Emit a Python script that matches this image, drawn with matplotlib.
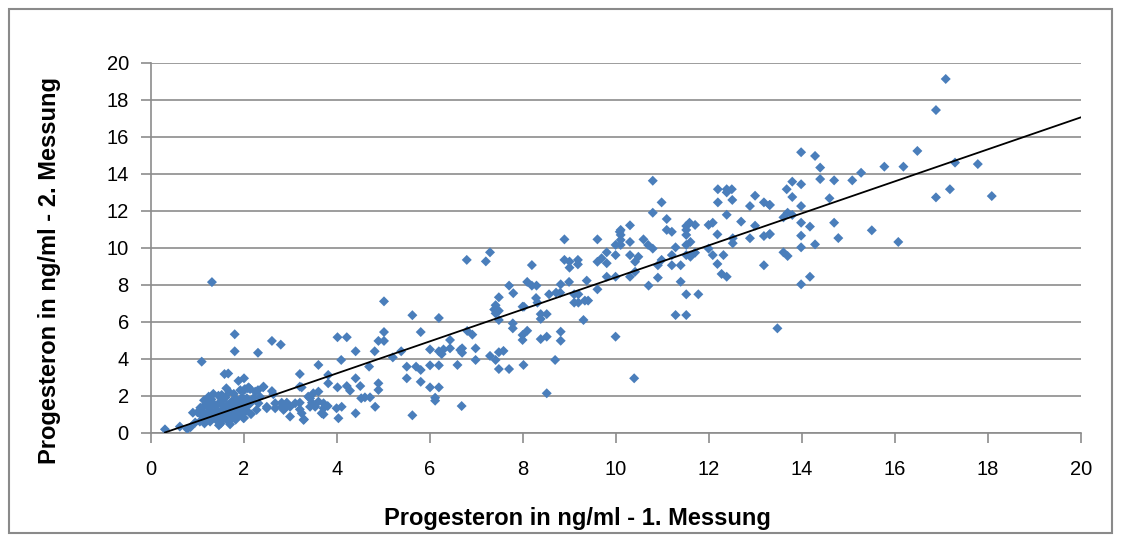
import numpy as np
import matplotlib
matplotlib.use("Agg")
import matplotlib.pyplot as plt
from matplotlib.patches import Rectangle

plt.rcParams["font.family"] = ["Liberation Sans", "DejaVu Sans"]

# Progesteron (ng/ml), first measurement vs. second measurement
messung_1 = np.array([
    # < 1 ng/ml
    0.30, 0.62, 0.78, 0.85, 0.90, 0.95,
    # 1 - 2.2 ng/ml
    1.09, 1.31, 1.00, 1.05, 1.08, 1.10, 1.12, 1.15, 1.18, 1.20, 1.22, 1.25,
    1.27, 1.30, 1.32, 1.35, 1.37, 1.40, 1.42, 1.45, 1.47, 1.50, 1.50, 1.52,
    1.55, 1.57, 1.58, 1.60, 1.62, 1.64, 1.66, 1.67, 1.68, 1.70, 1.72, 1.74,
    1.76, 1.78, 1.80, 1.80, 1.80, 1.82, 1.84, 1.86, 1.88, 1.88, 1.90, 1.92,
    1.94, 1.96, 1.98, 2.00, 2.00, 2.00, 2.02, 1.99, 2.05, 2.08, 2.10, 2.12,
    2.15, 1.28, 1.14, 1.34, 1.46, 1.54, 1.62, 1.70, 1.06, 1.24, 1.44, 1.58,
    # 2 - 3.3 ng/ml
    2.02, 2.13, 2.24, 2.42, 2.60, 2.63, 2.06, 2.20, 2.34, 2.09, 2.31, 2.49,
    2.67, 2.81, 2.92, 2.99, 3.10, 2.27, 2.49, 2.67, 2.85, 2.99, 1.99, 2.30,
    2.41, 2.30, 2.60, 2.79,
    # 2.8 - 4.1 ng/ml
    3.60, 3.20, 3.81, 3.81, 3.20, 3.49, 3.60, 2.81, 2.92, 3.20, 3.42, 3.46,
    3.60, 3.71, 2.88, 3.20, 3.42, 3.53, 3.71, 3.24, 3.28, 3.67, 3.99, 4.03,
    3.24, 3.38, 3.29, 3.71, 3.80,
    # 4 - 6.7 ng/ml
    5.01, 5.62, 6.19, 4.01, 4.21, 5.01, 4.89, 5.01, 5.80, 4.40, 4.81, 4.09,
    4.69, 5.20, 5.38, 6.00, 6.19, 6.29, 6.25, 6.65, 5.50, 5.70, 5.80, 6.00,
    6.19, 5.50, 5.80, 4.89, 4.89, 4.40, 4.50, 4.28, 4.21, 4.01, 4.52, 4.60,
    4.71, 4.82, 4.40, 4.10, 5.62, 6.00, 6.19, 6.11, 6.11,
    # 6.4 - 10 ng/ml
    8.89, 9.60, 7.29, 6.79, 7.20, 8.19, 8.89, 9.00, 9.00, 9.18, 9.18, 9.60,
    9.69, 9.80, 9.80, 9.99, 9.99, 10.08, 7.70, 7.79, 8.09, 8.19, 8.29, 8.81,
    8.99, 9.37, 9.60, 9.80, 9.99, 8.56, 8.71, 8.80, 9.10, 9.19, 9.10, 9.19,
    9.33, 9.40, 8.28, 8.31, 7.99, 8.02, 7.48, 7.41, 7.48, 7.41, 7.48, 7.38,
    7.78, 7.78, 8.09, 8.38, 8.51, 8.38, 7.99, 7.99, 8.51, 8.38, 8.81, 8.81,
    9.30, 9.99, 6.80, 6.91, 6.43, 6.43, 6.69, 6.69, 6.98, 6.98, 7.29, 7.41,
    7.48, 7.58, 7.48, 7.70, 8.01, 8.69, 6.59, 8.51, 6.68,
    # 10 - 13.5 ng/ml
    10.79, 12.19, 12.38, 12.49, 12.38, 10.98, 12.19, 12.50, 12.99, 12.88,
    13.18, 13.30, 10.79, 12.38, 11.09, 11.58, 11.70, 11.51, 11.51, 11.99,
    12.08, 12.69, 12.99, 10.30, 10.10, 10.10, 10.10, 10.10, 10.30, 10.30,
    10.59, 10.69, 10.79, 11.09, 11.20, 11.51, 11.51, 11.60, 11.28, 12.18,
    12.51, 12.51, 12.88, 13.18, 13.30, 11.99, 11.70, 11.51, 11.60, 11.20,
    10.98, 10.41, 10.48, 12.08, 12.31, 12.18, 12.27, 12.38, 13.18, 10.90,
    11.20, 11.39, 10.90, 10.30, 10.41, 10.70, 11.39, 11.51, 11.77, 11.28,
    11.51, 10.39, 13.47,
    # 13.3 - 16.5 ng/ml
    13.98, 14.28, 14.39, 16.48, 15.77, 16.18, 15.27, 14.39, 14.69, 15.08,
    13.79, 13.98, 13.67, 13.79, 14.59, 13.31, 13.98, 13.60, 13.69, 13.79,
    13.98, 14.17, 14.69, 13.31, 13.98, 14.78, 15.50, 14.28, 13.98, 16.07,
    13.60, 13.69, 14.17, 13.98,
    # > 16.5 ng/ml
    17.09, 16.88, 17.29, 17.78, 16.88, 17.18, 18.08,
])

messung_2 = np.array([
    0.18, 0.33, 0.20, 0.30, 1.08, 0.55,
    3.84, 8.14, 1.10, 0.60, 1.20, 0.90, 1.40, 0.50, 1.00, 1.60, 0.80, 1.30,
    0.60, 1.80, 1.10, 0.90, 1.50, 0.70, 1.20, 2.00, 1.00, 1.60, 0.50, 2.04,
    1.30, 0.80, 3.17, 1.90, 1.10, 1.50, 3.20, 0.60, 2.20, 1.30, 0.90, 1.70,
    1.00, 2.10, 5.32, 4.40, 1.40, 0.70, 1.80, 1.20, 2.80, 0.90, 1.60, 2.30,
    1.00, 1.90, 1.40, 2.94, 2.30, 0.80, 1.70, 1.14, 1.20, 2.40, 2.45, 1.55,
    1.00, 1.45, 1.75, 2.10, 0.40, 1.80, 2.40, 0.45, 1.35, 1.95, 1.55, 1.15,
    2.36, 2.36, 2.22, 2.49, 2.25, 2.08, 1.86, 1.86, 1.95, 1.50, 1.59, 1.40,
    1.59, 1.40, 1.59, 1.40, 1.59, 1.23, 1.32, 1.32, 1.23, 0.87, 0.78, 2.30,
    2.45, 4.32, 4.96, 4.76,
    3.66, 3.17, 3.12, 2.67, 2.49, 2.13, 2.22, 1.62, 1.62, 1.62, 1.86, 1.62,
    1.68, 1.59, 1.32, 1.26, 1.40, 1.40, 1.32, 1.05, 0.69, 1.05, 1.32, 0.78,
    2.45, 1.95, 0.72, 0.99, 1.44,
    7.10, 6.35, 6.20, 5.16, 5.16, 5.44, 4.96, 4.96, 5.44, 4.40, 4.40, 3.93,
    3.57, 4.07, 4.40, 4.50, 4.40, 4.50, 4.25, 4.47, 3.57, 3.57, 3.39, 3.64,
    3.64, 2.94, 2.75, 2.67, 2.31, 2.94, 2.52, 2.27, 2.52, 2.45, 1.86, 1.91,
    1.91, 1.40, 1.05, 1.40, 0.94, 2.45, 2.45, 1.89, 1.73,
    10.45, 10.45, 9.75, 9.34, 9.26, 9.06, 9.34, 9.25, 8.92, 9.34, 9.10, 9.24,
    9.43, 9.75, 9.16, 10.15, 9.60, 10.86, 7.95, 7.54, 8.15, 7.95, 7.95, 8.02,
    8.15, 8.22, 7.75, 8.43, 8.43, 7.48, 7.57, 7.57, 7.48, 7.48, 7.03, 7.03,
    7.14, 7.14, 7.28, 7.03, 6.81, 6.81, 7.32, 6.89, 6.59, 6.45, 6.09, 6.66,
    5.91, 5.64, 5.51, 6.41, 6.41, 6.15, 5.28, 5.01, 5.19, 5.06, 5.46, 4.97,
    6.09, 5.19, 5.50, 5.30, 5.01, 4.56, 4.56, 4.32, 4.56, 3.93, 4.15, 3.93,
    4.35, 4.42, 3.44, 3.44, 3.66, 3.93, 3.66, 2.13, 1.44,
    13.62, 13.16, 13.16, 13.16, 12.99, 12.45, 12.45, 12.58, 12.81, 12.25,
    12.45, 12.31, 11.89, 11.78, 11.55, 11.35, 11.23, 11.17, 10.96, 11.23,
    11.35, 11.41, 11.19, 11.21, 10.96, 10.69, 10.42, 10.15, 10.31, 9.60,
    10.45, 10.15, 9.95, 10.96, 10.86, 10.69, 10.15, 10.31, 10.02, 10.72,
    10.51, 10.24, 10.51, 10.63, 10.72, 9.95, 9.73, 9.60, 9.51, 9.60,
    9.34, 9.24, 9.51, 9.60, 9.60, 9.12, 8.58, 8.43, 9.05, 9.05,
    9.05, 9.05, 8.38, 8.43, 8.70, 7.95, 8.16, 7.48, 7.48, 6.36,
    6.36, 2.94, 5.64,
    15.16, 14.96, 14.33, 15.23, 14.38, 14.38, 14.05, 13.71, 13.64, 13.64,
    13.57, 13.43, 13.16, 12.74, 12.67, 12.31, 12.25, 11.64, 11.89, 11.77,
    11.35, 11.14, 11.35, 10.74, 10.65, 10.52, 10.94, 10.18, 10.02, 10.31,
    9.75, 9.55, 8.43, 8.02,
    19.12, 17.44, 14.60, 14.52, 12.72, 13.16, 12.79,
])

# linear trend line (Excel style), drawn from the smallest value out to 20
trend_slope = 0.865
trend_intercept = -0.25
trend_x = [0.3, 20.0]

x_ticks = np.arange(0, 21, 2)
y_ticks = np.arange(0, 21, 2)

grid_grey = "#8c8c8c"

fig = plt.figure(figsize=(11.22, 5.42), dpi=100)
fig.patch.set_facecolor("white")
ax = fig.add_axes([0.1346, 0.2017, 0.8289, 0.6826])

ax.scatter(messung_1, messung_2, marker="D", s=26, color="#4a7ebb",
           edgecolors="none", zorder=3)
tx = np.array(trend_x)
ax.plot(tx, trend_slope * tx + trend_intercept, color="black", lw=1.3, zorder=4)

ax.set_xlim(0, 20)
ax.set_ylim(0, 20)
ax.set_xticks(x_ticks)
ax.set_yticks(y_ticks)
ax.tick_params(axis="both", direction="out", length=7, width=1.2,
               color=grid_grey, labelsize=14.5, labelcolor="black")
ax.tick_params(axis="x", pad=13)
ax.tick_params(axis="y", pad=9)

ax.yaxis.grid(True, color=grid_grey, lw=1.2)
ax.set_axisbelow(True)
for side in ["top", "right"]:
    ax.spines[side].set_visible(False)
for side in ["left", "bottom"]:
    ax.spines[side].set_color(grid_grey)
    ax.spines[side].set_linewidth(1.2)

fig.text(577 / 1122, 1 - 518 / 542, "Progesteron in ng/ml - 1. Messung",
         ha="center", va="center", fontsize=17, fontweight="bold")
fig.text(50 / 1122, 1 - 270 / 542, "Progesteron in ng/ml - 2. Messung",
         ha="center", va="center", rotation=90, fontsize=17, fontweight="bold")

# chart area border
fig.patches.append(Rectangle((9 / 1122, 9 / 542), 1103 / 1122, 524 / 542,
                             transform=fig.transFigure, fill=False,
                             edgecolor="#8a8a8a", lw=1.5))

fig.savefig("out.png", dpi=100)
